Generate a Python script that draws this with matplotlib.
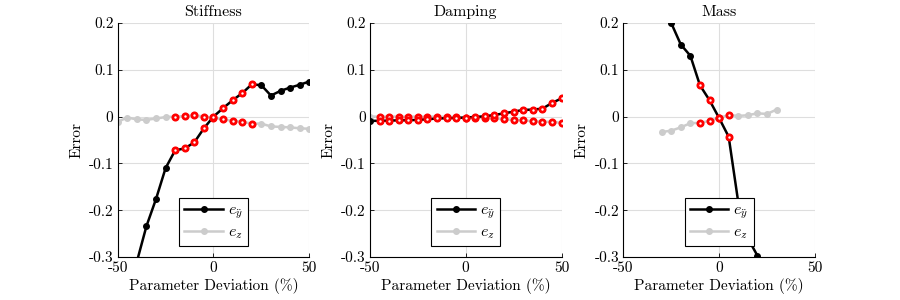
import matplotlib
matplotlib.use("Agg")
import matplotlib.pyplot as plt
import numpy as np

plt.rcParams["font.family"] = "cmr10"
plt.rcParams["mathtext.fontset"] = "cm"
plt.rcParams["axes.unicode_minus"] = False
plt.rcParams["axes.formatter.use_mathtext"] = False

# Stiffness
stiff_x = [-50, -45, -40, -35, -30, -25, -20, -15, -10, -5, 0, 5, 10, 15, 20, 25, 30, 35, 40, 45, 50]
stiff_ey = [None, None, -0.31, -0.234, -0.176, -0.110, -0.072, -0.068, -0.055, -0.025, 0.0,
            0.018, 0.035, 0.050, 0.069, 0.067, 0.045, 0.055, 0.062, 0.068, 0.075]
stiff_ez = [-0.011, -0.002, -0.006, -0.007, -0.004, -0.001, 0.000, 0.001, 0.003, 0.000, -0.002,
            -0.006, -0.009, -0.011, -0.015, -0.015, -0.021, -0.022, -0.023, -0.025, -0.026]
stiff_red = (-20, 20)

# Damping
damp_x = stiff_x
damp_ey = [-0.009, -0.009, -0.0085, -0.008, -0.0078, -0.007, -0.0057, -0.004, -0.0035, -0.0028, -0.002,
           -0.0007, 0.0007, 0.0035, 0.007, 0.0106, 0.0142, 0.015, 0.017, 0.029, 0.039]
damp_ez = [0.0, 0.0, 0.0, 0.0, 0.0, 0.0, 0.0, 0.0, -0.0005, -0.001, -0.002,
           -0.002, -0.003, -0.004, -0.0057, -0.007, -0.0078, -0.010, -0.011, -0.011, -0.0135]
damp_red = (-45, 50)

# Mass
mass_x_ey = [-25, -20, -15, -10, -5, 0, 5, 10, 15, 20]
mass_ey = [0.200, 0.154, 0.130, 0.067, 0.035, -0.003, -0.043, -0.183, -0.26, -0.297]
mass_x_ez = [-30, -25, -20, -15, -10, -5, 0, 5, 10, 15, 20, 25, 30]
mass_ez = [-0.033, -0.030, -0.023, -0.014, -0.0135, -0.009, -0.003, 0.0035, 0.0014, 0.003, 0.007, 0.0057, 0.015]
mass_red = (-10, 5)

titles = ["Stiffness", "Damping", "Mass"]
panels = [
    (stiff_x, stiff_ey, stiff_x, stiff_ez, stiff_red),
    (damp_x, damp_ey, damp_x, damp_ez, damp_red),
    (mass_x_ey, mass_ey, mass_x_ez, mass_ez, mass_red),
]

gray = (0.8, 0.8, 0.8)
fig = plt.figure(figsize=(9, 3), dpi=100)
lefts = [0.1308, 0.4111, 0.6926]

for left, title, (xa, ya, xb, yb, red) in zip(lefts, titles, panels):
    ax = fig.add_axes([left, 0.1433, 0.2128, 0.78])
    xa_ = np.array(xa, dtype=float)
    ya_ = np.array([np.nan if v is None else v for v in ya], dtype=float)
    xb_ = np.array(xb, dtype=float)
    yb_ = np.array(yb, dtype=float)
    ax.plot(xa_, ya_, "-o", color="black", lw=1.8, ms=4, label=r"$e_{\ddot{y}}$", zorder=3)
    ax.plot(xb_, yb_, "-o", color=gray, lw=1.8, ms=4, label=r"$e_z$", zorder=2)
    for xs, ys in ((xb_, yb_), (xa_, ya_)):
        m = (xs >= red[0]) & (xs <= red[1])
        ax.plot(xs[m], ys[m], "o", ms=3.8, mfc="white", mec="red", mew=2.0, zorder=4)
    ax.set_xlim(-50, 50)
    ax.set_ylim(-0.3, 0.2)
    ax.set_xticks([-50, 0, 50])
    ax.set_xticklabels(["-50", "0", "50"])
    ax.set_yticks([-0.3, -0.2, -0.1, 0, 0.1, 0.2])
    ax.set_yticklabels(["-0.3", "-0.2", "-0.1", "0", "0.1", "0.2"])
    ax.grid(True, color=(0.87, 0.87, 0.87), lw=0.8)
    ax.set_axisbelow(True)
    for s in ("top", "right"):
        ax.spines[s].set_visible(False)
    for s in ("left", "bottom"):
        ax.spines[s].set_linewidth(0.8)
    ax.tick_params(direction="in", length=3, width=0.6, labelsize=11, pad=3)
    ax.set_title(title, fontsize=11.5, pad=5)
    ax.set_xlabel("Parameter Deviation (%)", fontsize=11, labelpad=2)
    ax.set_ylabel("Error", fontsize=11, labelpad=4)
    leg = ax.legend(loc="lower center", bbox_to_anchor=(0.5, 0.045), fontsize=11.5, frameon=True,
                    fancybox=False, framealpha=1, edgecolor="black", handlelength=2.4,
                    borderpad=0.35, labelspacing=0.25, handletextpad=0.3, borderaxespad=0)
    leg.get_frame().set_linewidth(0.8)

fig.savefig("out.png", dpi=100)
